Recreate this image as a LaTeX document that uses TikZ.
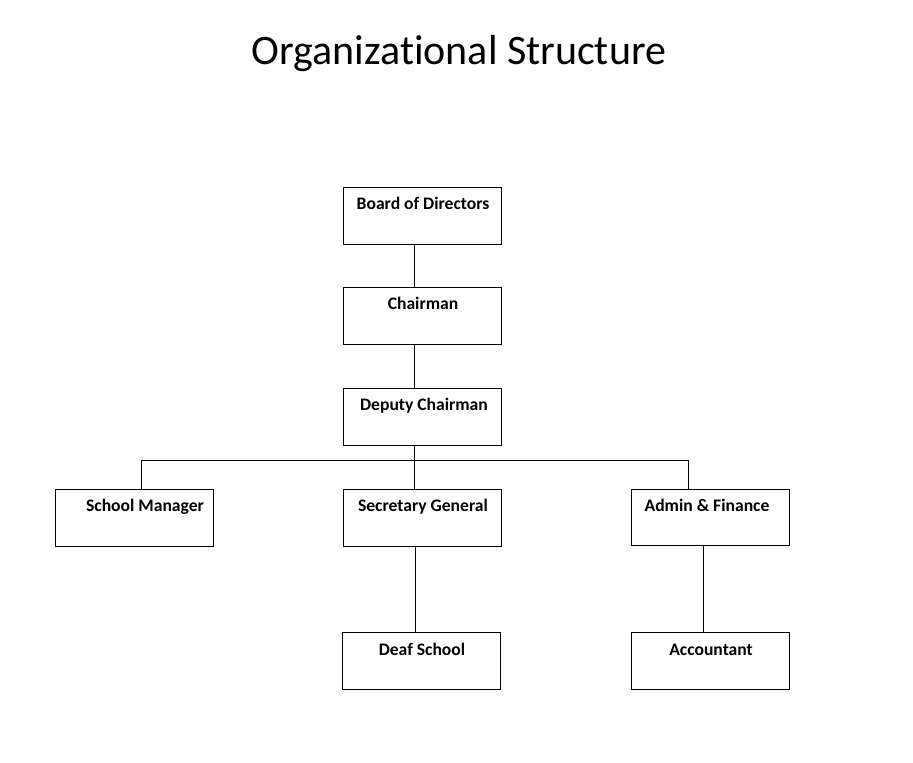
\documentclass[tikz,border=0pt]{standalone}
\usepackage{fontspec}
\setmainfont[Ligatures=NoCommon]{Carlito}
\begin{document}
\begin{tikzpicture}[x=1pt,y=-1pt,
  box/.style={draw=black,line width=0.9pt,minimum width=158pt,minimum height=57pt,inner sep=0pt,anchor=north west},
  boxtext/.style={font=\fontsize{17.6}{20}\selectfont\bfseries,anchor=base,inner sep=0pt},
  conn/.style={draw=black,line width=0.9pt}]
\useasboundingbox (0,0) rectangle (913,763);
\node[font=\fontsize{42}{50}\selectfont,anchor=base,inner sep=0pt] (title) at (459,64) {Organizational Structure};
% boxes
\node[box] (board) at (343,187) {};
\node[box] (chair) at (343,287) {};
\node[box] (deputy) at (343,388) {};
\node[box] (school) at (55,489) {};
\node[box] (secgen) at (343,489) {};
\node[box,minimum height=56pt] (admin) at (631,489) {};
\node[box] (deaf) at (342,632) {};
\node[box] (acct) at (631,632) {};
% texts
\node[boxtext] (tboard) at (423,209) {Board of Directors};
\node[boxtext] (tchair) at (423,309) {Chairman};
\node[boxtext] (tdeputy) at (424,410) {Deputy Chairman};
\node[boxtext] (tschool) at (145,511) {School Manager};
\node[boxtext] (tsecgen) at (423,511) {Secretary General};
\node[boxtext] (tadmin) at (707,511) {Admin \& Finance};
\node[boxtext] (tdeaf) at (422,655) {Deaf School};
\node[boxtext] (tacct) at (711,655) {Accountant};
% connectors
\coordinate (busL) at (141,460);
\coordinate (busR) at (688,460);
\coordinate (busM) at (414,460);
\coordinate (colS) at (415,0);
\coordinate (colA) at (703,0);
\draw[conn] (board.south -| busM) -- (chair.north -| busM);
\draw[conn] (chair.south -| busM) -- (deputy.north -| busM);
\draw[conn] (deputy.south -| busM) -- (secgen.north -| busM);
\draw[conn] (busL) -- (busR);
\draw[conn] (busL) -- (school.north -| busL);
\draw[conn] (busR) -- (admin.north -| busR);
\draw[conn] (secgen.south -| colS) -- (deaf.north -| colS);
\draw[conn] (admin.south -| colA) -- (acct.north -| colA);
\end{tikzpicture}
\end{document}
